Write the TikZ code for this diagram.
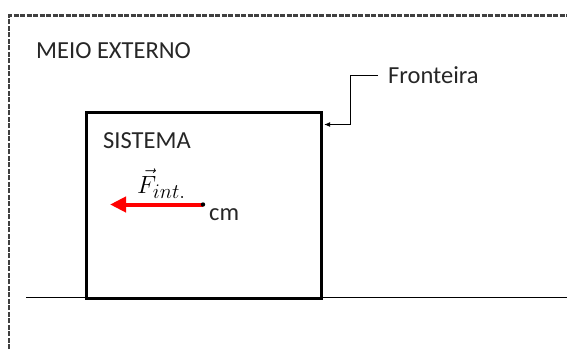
\documentclass[tikz,border=0pt]{standalone}
\usepackage{fontspec}
\setmainfont{Carlito}
\usetikzlibrary{arrows.meta}
\begin{document}
\begin{tikzpicture}[x=1pt,y=-1pt,
  lbl/.style={inner sep=0pt,anchor=base west,font=\fontsize{24.5}{28}\selectfont,text=black!85},
  frame/.style={line width=2.4pt,dash pattern=on 5pt off 1.5pt,black!75},
  sysbox/.style={draw,line width=2.6pt},
  callout/.style={line width=1.2pt,-{Latex[length=6pt,width=5pt]}},
  force/.style={line width=4pt,draw=red,-{Triangle[length=16pt,width=15pt]}}]
\useasboundingbox (0,0) rectangle (567,349);
% outer dashed frame (external medium)
\coordinate (fl) at (9,349);
\coordinate (ftl) at (9,15.5);
\coordinate (fr) at (567,15.5);
\draw[frame] (fl) -- (ftl) -- (fr);
% ground line
\coordinate (g1) at (26,297.5);
\coordinate (g2) at (567,297.5);
\draw[line width=1.2pt] (g1) -- (g2);
% system box
\node[sysbox,minimum width=235pt,minimum height=186pt,inner sep=0pt,anchor=north west] (sys) at (85,111) {};
% labels
\node[lbl] (meio) at (36,58.5) {MEIO EXTERNO};
\node[lbl] (sistema) at (103,148) {SISTEMA};
\node[lbl] (fronteira) at (388,83) {Fronteira};
% callout
\coordinate (c1) at (378,75.5);
\coordinate (c2) at (350.5,75.5);
\coordinate (c3) at (350.5,124.5);
\coordinate (c4) at (324,124.5);
\draw[callout] (c1) -- (c2) -- (c3) -- (c4);
% force
\coordinate (cm) at (203,204.5);
\coordinate (tip) at (110,204.5);
\draw[force] (cm) -- (tip);
\fill (cm) circle (2.2pt);
\node[lbl] (cmlabel) at (209,220.5) {cm};
\node[inner sep=0pt,anchor=base west,font=\fontsize{31}{36}\selectfont] (flabel) at (137,193) {$\vec{F}_{int.}$};
\end{tikzpicture}
\end{document}
